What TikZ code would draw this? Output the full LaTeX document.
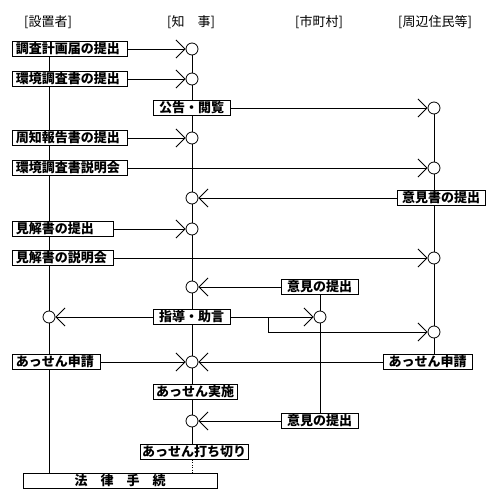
\documentclass[tikz,border=0pt]{standalone}
\usepackage{fontspec}
\newfontfamily\jp{Noto Sans CJK JP}
\usetikzlibrary{arrows.meta,backgrounds}

\begin{document}
\begin{tikzpicture}[x=1pt, y=-1pt, >={Straight Barb[length=9pt,width=18pt,line width=0.9pt]}, line width=0.7pt,
  box/.style={draw, fill=white, line width=1pt, inner sep=0pt, minimum height=15pt,
    font=\jp\bfseries\fontsize{13}{13}\selectfont},
  lbox/.style={box, anchor=west, inner xsep=3.5pt, text width=#1, align=left},
  cbox/.style={box, minimum width=#1},
  stn/.style={circle, draw, fill=white, line width=0.8pt, minimum size=12pt, inner sep=0pt},
  head/.style={font=\jp\fontsize{13}{13}\selectfont}]

  \useasboundingbox (0,0) rectangle (500,497);

  % column heads
  \node[head] (hSet) at (48,22) {[設置者]};
  \node[head] (hChi) at (191,22) {[知　事]};
  \node[head] (hShi) at (319,22) {[市町村]};
  \node[head] (hJu)  at (435,22) {[周辺住民等]};

  % boxes
  \node[lbox=108pt] (keikaku)   at (12,49)  {調査計画届の提出};
  \node[lbox=108pt] (chosa)     at (12,79)  {環境調査書の提出};
  \node[cbox=77pt]  (kokoku)    at (191.5,108) {公告・閲覧};
  \node[lbox=108pt] (shuchi)    at (12,138) {周知報告書の提出};
  \node[lbox=108pt] (setsumei)  at (12,168) {環境調査書説明会};
  \node[cbox=88pt]  (ikensho)   at (441,198) {意見書の提出};
  \node[lbox=94pt]  (kenkai)    at (12,229) {見解書の提出};
  \node[lbox=94pt]  (kenkaikai) at (12,258) {見解書の説明会};
  \node[cbox=77pt]  (ikenA)     at (319.5,287) {意見の提出};
  \node[cbox=77pt]  (shido)     at (191.5,317) {指導・助言};
  \node[lbox=81pt]  (assenL)    at (12,362) {あっせん申請};
  \node[cbox=89pt]  (assenR)    at (427.5,362) {あっせん申請};
  \node[cbox=84pt]  (jisshi)    at (195,392) {あっせん実施};
  \node[cbox=77pt]  (ikenB)     at (319.5,421) {意見の提出};
  \node[cbox=108pt] (uchikiri)  at (194,452) {あっせん打ち切り};
  \node[cbox=194pt] (horitsu)   at (120,481) {法　律　手　続};

  % receiving points
  \node[stn] (k1) at (192,49) {};
  \node[stn] (k2) at (192,79) {};
  \node[stn] (k3) at (192,138) {};
  \node[stn] (k4) at (192,198) {};
  \node[stn] (k5) at (192,229) {};
  \node[stn] (k6) at (192,287) {};
  \node[stn] (k7) at (192,362) {};
  \node[stn] (k8) at (192,421) {};
  \node[stn] (sA) at (49,317) {};
  \node[stn] (mA) at (320,317) {};
  \node[stn] (j1) at (434,108) {};
  \node[stn] (j2) at (434,168) {};
  \node[stn] (j3) at (434,258) {};
  \node[stn] (j4) at (434,332) {};
  \coordinate (br) at (268,317);

  \begin{pgfonlayer}{background}
    % vertical lines
    \draw (sA |- keikaku.south) -- (sA |- horitsu.north);
    \draw (k1.south) -- (k1 |- uchikiri.north);
    \draw[dotted] (k1 |- uchikiri.south) -- (k1 |- horitsu.north);
    \draw (j1.south) -- (j1 |- assenR.north);
    \draw (mA |- ikenA.south) -- (mA |- ikenB.north);

    % horizontal flows
    \draw[->] (keikaku) -- (k1);
    \draw[->] (chosa) -- (k2);
    \draw[->] (kokoku) -- (j1);
    \draw[->] (shuchi) -- (k3);
    \draw[->] (setsumei) -- (j2);
    \draw[->] (ikensho) -- (k4);
    \draw[->] (kenkai) -- (k5);
    \draw[->] (kenkaikai) -- (j3);
    \draw[->] (ikenA) -- (k6);
    \draw[->] (shido) -- (sA);
    \draw[->] (shido) -- (mA);
    \draw[->] (br) |- (j4);
    \draw[->] (assenL) -- (k7);
    \draw[->] (assenR) -- (k7);
    \draw[->] (ikenB) -- (k8);
  \end{pgfonlayer}

\end{tikzpicture}
\end{document}
